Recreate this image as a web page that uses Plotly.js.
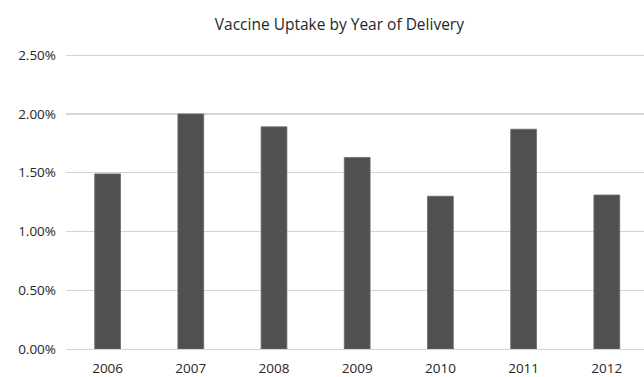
<!DOCTYPE html>
<html>
<head>
<meta charset="utf-8">
<script src="https://cdn.plot.ly/plotly-3.0.1.min.js"></script>
<style>html,body{margin:0;padding:0;background:#fff;}#chart{width:644px;height:377px;}</style>
</head>
<body>
<div id="chart"></div>
<script>
const years = ['2006', '2007', '2008', '2009', '2010', '2011', '2012'];
const uptake = [0.0149, 0.0200, 0.0189, 0.0163, 0.0130, 0.0187, 0.0131];
const yTicks = [0, 0.005, 0.010, 0.015, 0.020, 0.025];

const trace = {
  type: 'bar',
  x: years,
  y: uptake,
  marker: {color: '#505050', line: {color: '#6a6a6a', width: 0.8}},
  hoverinfo: 'none'
};

const layout = {
  width: 644,
  height: 377,
  paper_bgcolor: '#ffffff',
  plot_bgcolor: '#ffffff',
  margin: {l: 66, r: 0, t: 54, b: 28},
  bargap: 0.69,
  showlegend: false,
  font: {family: 'Open Sans, sans-serif', size: 13.5, color: '#262626'},
  title: {
    text: 'Vaccine Uptake by Year of Delivery',
    font: {family: 'Open Sans, sans-serif', size: 15.5, color: '#262626'},
    x: 0.527, xref: 'container', xanchor: 'center',
    y: 0.934, yref: 'container', yanchor: 'middle'
  },
  xaxis: {
    type: 'category',
    range: [-0.5, 6.447],
    showgrid: false,
    showline: true,
    linecolor: '#d4d4d4',
    linewidth: 1.3,
    ticks: '',
    ticklabelstandoff: 6,
    tickfont: {size: 13.5, color: '#262626'},
    automargin: false,
    fixedrange: true
  },
  yaxis: {
    range: [0, 0.0251],
    tickvals: yTicks,
    tickformat: '.2%',
    showgrid: true,
    gridcolor: '#d4d4d4',
    gridwidth: 1.3,
    zeroline: false,
    showline: false,
    ticks: '',
    ticklabelstandoff: 9,
    tickfont: {size: 13.5, color: '#262626'},
    automargin: false,
    fixedrange: true
  }
};

Plotly.newPlot('chart', [trace], layout, {displayModeBar: false, staticPlot: true});
</script>
</body>
</html>
